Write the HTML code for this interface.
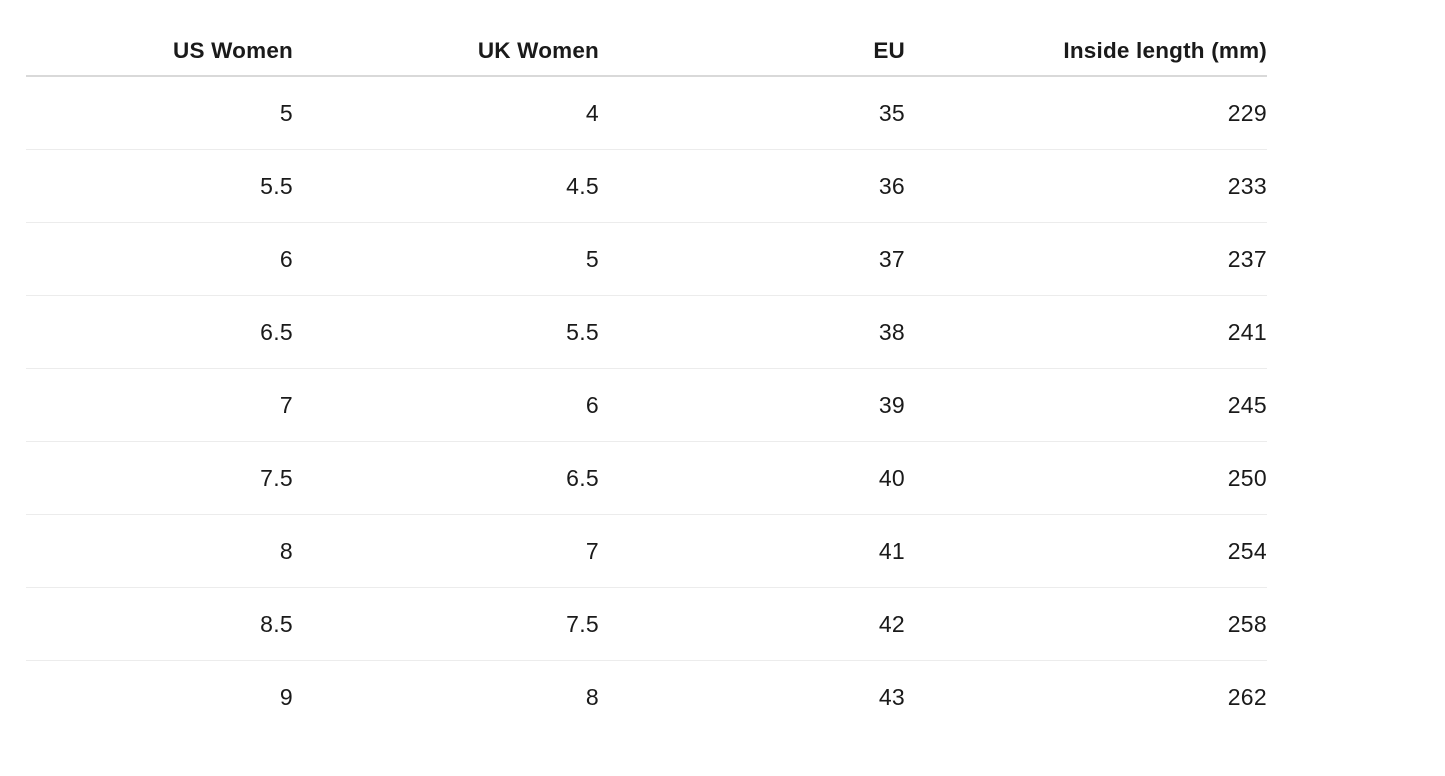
<!DOCTYPE html>
<html><head><style>
body{margin:0;background:#fff;width:1445px;height:776px;position:relative;font-family:"Liberation Sans",sans-serif;color:#1a1a1a;overflow:hidden}
.c{position:absolute;text-align:right;font-size:23px;line-height:24px;letter-spacing:0.3px}
.h{font-weight:bold;font-size:22.5px;letter-spacing:0.2px}
.l{position:absolute;left:26px;width:1241px;height:1px;background:#ececec}
</style></head><body>
<div class="l" style="top:75px;height:2px;background:#d9d9d9"></div>
<div id="t"></div>
<script>
const cols=[293,599,905,1267];
const rows=[["US Women","UK Women","EU","Inside length (mm)"],["5","4","35","229"],["5.5","4.5","36","233"],["6","5","37","237"],["6.5","5.5","38","241"],["7","6","39","245"],["7.5","6.5","40","250"],["8","7","41","254"],["8.5","7.5","42","258"],["9","8","43","262"]];
let h="";
rows.forEach((r,i)=>{
 const cy=i==0?51:113+(i-1)*73;
 r.forEach((v,j)=>{h+=`<div class="c${i==0?' h':''}" style="right:${1445-cols[j]}px;top:${cy-12}px">${v}</div>`;});
 if(i>0&&i<9)h+=`<div class="l" style="top:${149+(i-1)*73}px"></div>`;
});
document.getElementById("t").innerHTML=h;
</script>
</body></html>
